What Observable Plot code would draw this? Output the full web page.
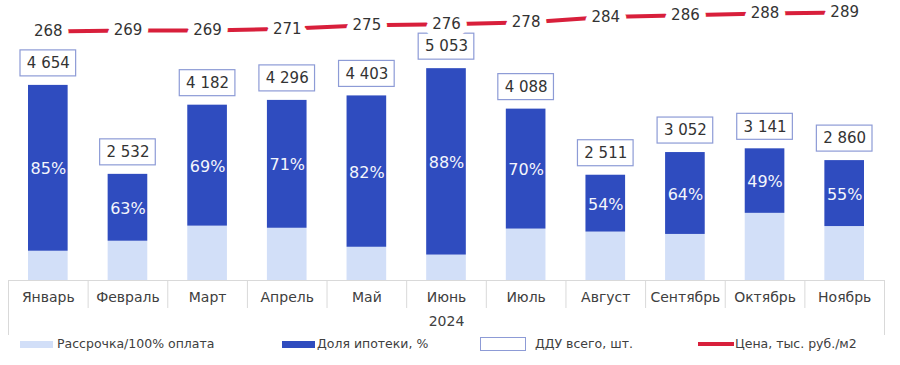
<!DOCTYPE html>
<html>
<head>
<meta charset="utf-8">
<script src="https://cdn.jsdelivr.net/npm/d3@7"></script>
<script src="https://cdn.jsdelivr.net/npm/@observablehq/plot@0.6"></script>
<style>
  body { margin: 0; background: #fff; font-family: "DejaVu Sans", Verdana, sans-serif; }
  #wrap { position: relative; width: 900px; height: 365px; }
  #main, #price { position: absolute; left: 0; top: 0; }
  #main svg, #price svg { background: transparent !important; overflow: visible; }
  .leg { position: absolute; top: 336px; font-size: 12.5px; color: #404040; line-height: 16px; white-space: nowrap; }
  .sw { position: absolute; }
</style>
</head>
<body>
<div id="wrap">
  <div id="main"></div>
  <div id="price"></div>
  <div class="sw" style="left:20px;top:341px;width:33px;height:7px;background:#d2dff8"></div>
  <div class="leg" style="left:57px">Рассрочка/100% оплата</div>
  <div class="sw" style="left:282px;top:341px;width:33px;height:7px;background:#2f4cbf"></div>
  <div class="leg" style="left:317px">Доля ипотеки, %</div>
  <div class="sw" style="left:480px;top:337px;width:44px;height:12px;border:1px solid #8d9bd6;background:#fff"></div>
  <div class="leg" style="left:535px">ДДУ всего, шт.</div>
  <div class="sw" style="left:698px;top:342px;width:36px;height:4px;background:#d81f3b"></div>
  <div class="leg" style="left:735px">Цена, тыс. руб./м2</div>
</div>
<script>
const months = ["Январь","Февраль","Март","Апрель","Май","Июнь","Июль","Август","Сентябрь","Октябрь","Ноябрь"];
const totals = [4654, 2532, 4182, 4296, 4403, 5053, 4088, 2511, 3052, 3141, 2860];
const mortgageShare = [85, 63, 69, 71, 82, 88, 70, 54, 64, 49, 55];
const prices = [268, 269, 269, 271, 275, 276, 278, 284, 286, 288, 289];

const rows = months.map((m, i) => {
  const dark = totals[i] * mortgageShare[i] / 100;
  const light = totals[i] - dark;
  return {month: m, total: totals[i], share: mortgageShare[i], light, price: prices[i]};
});

const fmt = v => d3.format(",")(v).replace(/,/g, " ");
const step = (884 - 8) / months.length;
const grey = "#d9d9d9";

const xOpts = {type: "band", domain: months, padding: 0, round: false};

const main = Plot.plot({
  width: 900,
  height: 337,
  marginLeft: 8,
  marginRight: 16,
  marginTop: 62,
  marginBottom: 57,
  style: {fontFamily: "DejaVu Sans, Verdana, sans-serif", fontSize: "14px", color: "#404040", background: "transparent"},
  x: {...xOpts, tickSize: 0, tickPadding: 12, label: "2024", labelAnchor: "center", labelOffset: 45},
  y: {domain: [0, 5200], axis: null},
  marks: [
    Plot.barY(rows, {x: "month", y1: 0, y2: "light", fill: "#d2dff8", insetLeft: 20, insetRight: 20}),
    Plot.barY(rows, {x: "month", y1: "light", y2: "total", fill: "#2f4cbf", insetLeft: 20, insetRight: 20}),
    Plot.text(rows, {x: "month", y: d => d.light + (d.total - d.light) / 2, dy: 1, text: d => d.share + "%", fill: "#f4f6fc", fontSize: 16}),
    Plot.barY(rows, {x: "month", y1: "total", y2: "total", fill: "white", stroke: "#8d9bd6", strokeWidth: 1.2, insetTop: -35, insetBottom: 9, insetLeft: 12, insetRight: 12}),
    Plot.text(rows, {x: "month", y: "total", dy: -22, text: d => fmt(d.total), fill: "#333", fontSize: 15}),
    Plot.ruleY([0], {stroke: grey}),
    Plot.ruleX(months, {x: d => d, y1: 0, y2: 0, dx: -step / 2, insetBottom: -28, stroke: grey}),
    Plot.ruleX([months[0]], {x: d => d, y1: 0, y2: 0, dx: -step / 2, insetBottom: -55, stroke: grey}),
    Plot.ruleX([months[months.length - 1]], {x: d => d, y1: 0, y2: 0, dx: step / 2, insetBottom: -55, stroke: grey})
  ]
});
document.getElementById("main").appendChild(main);

const price = Plot.plot({
  width: 900,
  height: 45,
  marginLeft: 8,
  marginRight: 16,
  marginTop: 12,
  marginBottom: 14,
  style: {fontFamily: "DejaVu Sans, Verdana, sans-serif", background: "transparent"},
  x: {...xOpts, axis: null},
  y: {domain: [268, 289], axis: null},
  marks: [
    Plot.line(rows, {x: "month", y: "price", stroke: "#d81f3b", strokeWidth: 4}),
    Plot.text(rows, {x: "month", y: "price", text: "price", fill: "#333", stroke: "white", strokeWidth: 14, fontSize: 15})
  ]
});
document.getElementById("price").appendChild(price);
</script>
</body>
</html>
